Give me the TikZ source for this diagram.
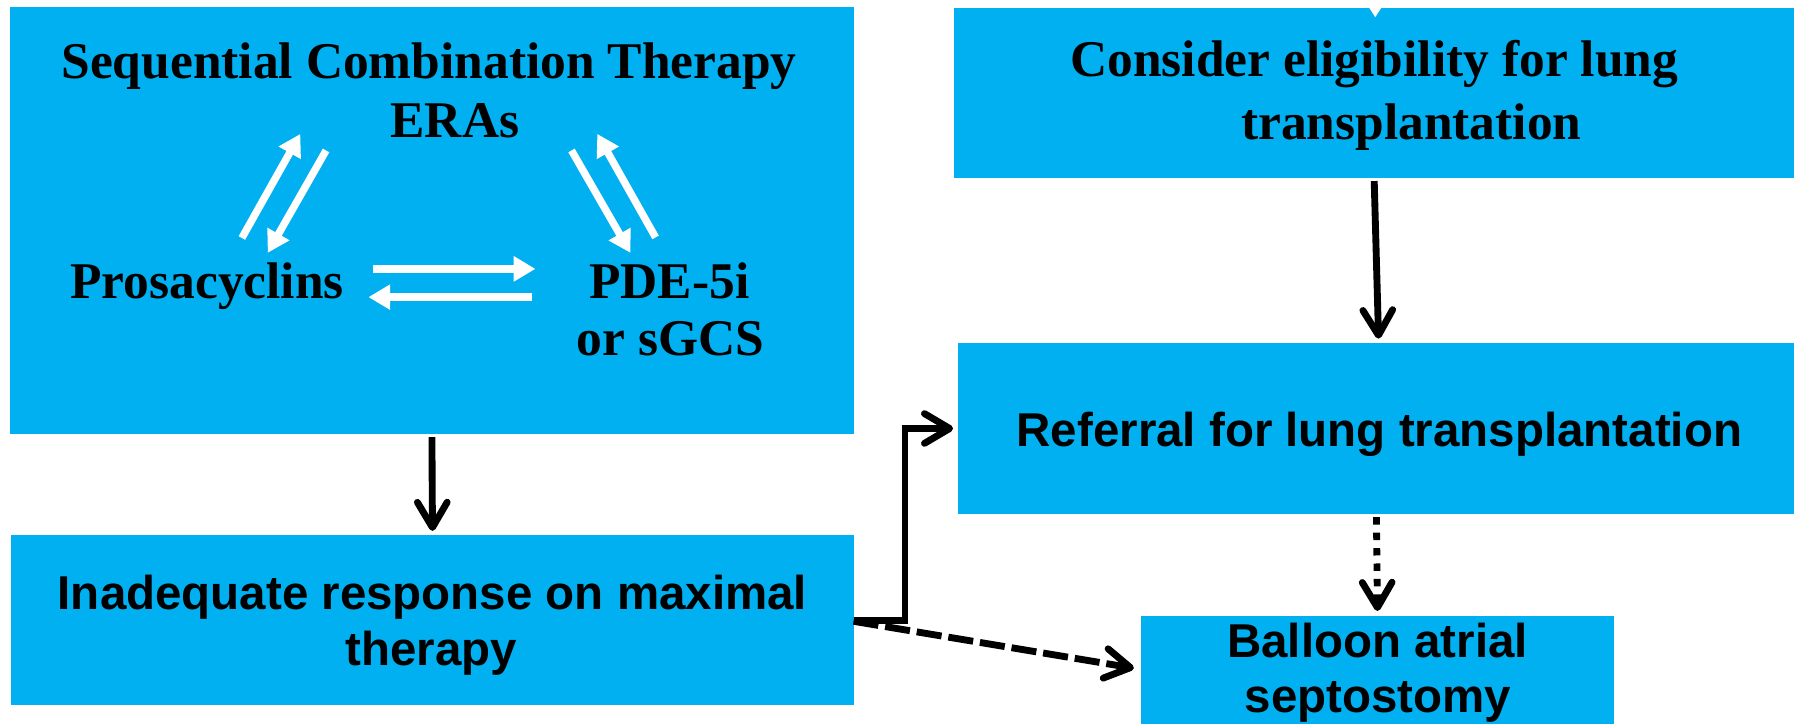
\documentclass[tikz,border=0pt]{standalone}
\usepackage{fontspec}
\setmainfont{Liberation Serif}
\setsansfont{Liberation Sans}
\usetikzlibrary{arrows.meta}
\definecolor{boxblue}{HTML}{00B0F0}
\begin{document}
\begin{tikzpicture}[x=1pt,y=-1pt,
  box/.style={fill=boxblue, draw=none, inner sep=0pt, outer sep=0pt, rectangle},
  sertext/.style={font=\fontsize{45}{50}\selectfont\bfseries, anchor=base, inner sep=0pt},
  santext/.style={font=\sffamily\bfseries\fontsize{41.5}{49.5}\selectfont, anchor=base, inner sep=0pt},
  whitearrow/.style={draw=white, line width=6.5pt, -{Triangle[length=19pt,width=21pt]}},
  blackarrow/.style={draw=black, line width=6pt, -{Straight Barb[length=22pt,width=26pt,line width=6pt,round]}}
]
\clip (0,0) rectangle (1568,632);
\fill[white] (0,0) rectangle (1568,632);

% boxes
\node[box, minimum width=737pt, minimum height=372.5pt] (seq) at (377.5,192.75) {};
\node[box, minimum width=736pt, minimum height=148pt] (inad) at (378,542) {};
\node[box, minimum width=735pt, minimum height=148.5pt] (con) at (1201,81) {};
\node[box, minimum width=732pt, minimum height=149pt] (ref) at (1203,374.5) {};
\node[box, minimum width=414pt, minimum height=112pt] (bal) at (1204,594) {};

% small white arrow tip at the top
\fill[white] (1195.5,5) -- (1208.5,5) -- (1202,15) -- cycle;

% texts in the first box
\node[sertext] (t1) at (375,69) {Sequential Combination Therapy};
\node[sertext] (eras) at (397.6,120) {ERAs};
\node[sertext] (pros) at (181,261) {Prosacyclins};
\node[sertext] (pde) at (585,261) {PDE-5i};
\node[sertext] (sgcs) at (586,311) {or sGCS};

% white arrows
\coordinate (la1) at (211.4,208); \coordinate (la2) at (262.5,117);
\coordinate (lb1) at (285,131.5); \coordinate (lb2) at (234,221);
\coordinate (ra1) at (499.5,131.5); \coordinate (ra2) at (551,221);
\coordinate (rb1) at (573,207.5); \coordinate (rb2) at (522,117);
\coordinate (ha1) at (325.6,235); \coordinate (ha2) at (468,235);
\coordinate (hb1) at (465.4,259.7); \coordinate (hb2) at (322,259.7);
\draw[whitearrow] (la1) -- (la2);
\draw[whitearrow] (lb1) -- (lb2);
\draw[whitearrow] (ra1) -- (ra2);
\draw[whitearrow] (rb1) -- (rb2);
\draw[whitearrow] (ha1) -- (ha2);
\draw[whitearrow] (hb1) -- (hb2);

% other texts
\node[sertext] (c1) at (1201,67) {Consider eligibility for lung};
\node[sertext] (c2) at (1233.5,122) {transplantation};
\node[santext] (r1) at (1205.6,390.4) {Referral for lung transplantation};
\node[santext] (i1) at (378,532.5) {Inadequate response on maximal};
\node[santext] (i2) at (377,582) {therapy};
\node[santext] (b1) at (1204,574.5) {Balloon atrial};
\node[santext] (b2) at (1204.5,623) {septostomy};

% black connectors
\draw[blackarrow, shorten <=3pt, shorten >=4pt] (seq.south) -- (inad.north);
\draw[blackarrow, shorten <=3pt, shorten >=4pt] (con.south) -- ([xshift=2pt]ref.north);
\draw[blackarrow, dash pattern=on 6.5pt off 7pt, shorten <=3pt, shorten >=4pt] (ref.south) -- (bal.north);
\draw[blackarrow, shorten >=4pt] (inad.east) -- ++(45,0) |- (ref.west);
\coordinate (balin) at (991,584);
\draw[blackarrow, dash pattern=on 22pt off 6pt] ([yshift=-1pt]inad.east) -- (balin);
\end{tikzpicture}
\end{document}
